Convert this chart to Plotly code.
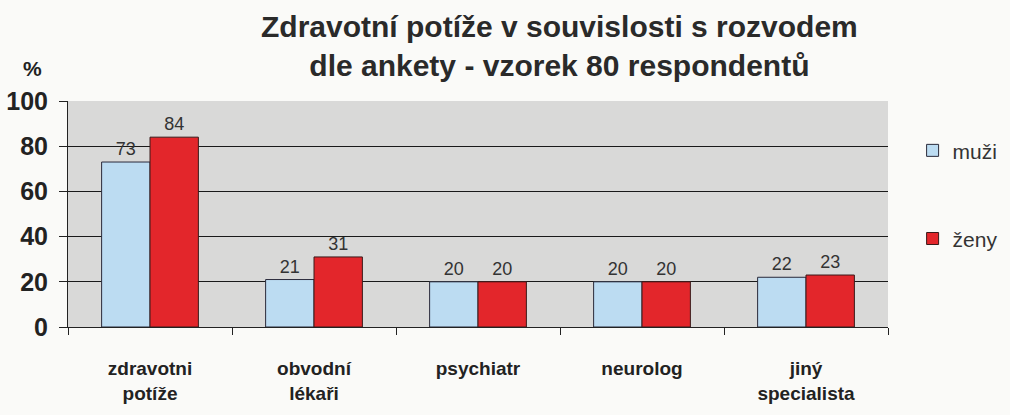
import plotly.graph_objects as go

categories = ["zdravotni<br>potíže", "obvodní<br>lékaři", "psychiatr", "neurolog", "jiný<br>specialista"]
muzi = [73, 21, 20, 20, 22]
zeny = [84, 31, 20, 20, 23]
y_ticks = [0, 20, 40, 60, 80, 100]
title_text = "Zdravotní potíže v souvislosti s rozvodem<br>dle ankety - vzorek 80 respondentů"

fig = go.Figure()
fig.add_trace(go.Bar(
    x=categories, y=muzi, name="muži",
    marker=dict(color="#bcdcf2", line=dict(color="#2a2a3a", width=1)),
    text=muzi, textposition="outside", cliponaxis=False,
    textfont=dict(family="Liberation Sans, Arial", size=18, color="#333333"),
    legend="legend",
))
fig.add_trace(go.Bar(
    x=categories, y=zeny, name="ženy",
    marker=dict(color="#e3262b", line=dict(color="#3a1a1a", width=1)),
    text=zeny, textposition="outside", cliponaxis=False,
    textfont=dict(family="Liberation Sans, Arial", size=18, color="#333333"),
    legend="legend2",
))

fig.update_layout(
    width=1010, height=415,
    margin=dict(l=68, r=122, t=101, b=88, autoexpand=False),
    paper_bgcolor="#fafaf8",
    plot_bgcolor="#d9d9d8",
    barmode="group", bargap=0.41, bargroupgap=0,
    font=dict(family="Liberation Sans, Arial", color="#222222"),
    xaxis=dict(
        showgrid=False, showline=True, linecolor="#222222", linewidth=1,
        ticks="outside", tickson="boundaries", ticklen=7, tickcolor="#222222",
        tickfont=dict(size=19, color="#222222", weight="bold",
                      family="Liberation Sans Narrow, Liberation Sans, Arial"),
        ticklabelstandoff=24,
        range=[-0.5, 4.5], automargin=False,
    ),
    yaxis=dict(
        range=[0, 100], tickvals=y_ticks,
        showgrid=True, gridcolor="#1a1a1a", gridwidth=1,
        showline=True, linecolor="#222222", linewidth=1,
        ticks="outside", ticklen=8, tickcolor="#222222",
        tickfont=dict(size=25, color="#222222", weight="bold"),
        ticklabelstandoff=6,
        zeroline=False, automargin=False,
    ),
    legend=dict(x=1.03, y=0.78, xanchor="left", yanchor="middle",
                font=dict(size=21, color="#333333"), bgcolor="rgba(0,0,0,0)"),
    legend2=dict(x=1.03, y=0.39, xanchor="left", yanchor="middle",
                 font=dict(size=21, color="#333333"), bgcolor="rgba(0,0,0,0)"),
    showlegend=True,
)

fig.add_annotation(text=title_text, xref="paper", yref="paper", x=0.599, y=1.245,
                   showarrow=False, xanchor="center", yanchor="middle",
                   font=dict(size=30, color="#2a2a2a", weight="bold"))
fig.add_annotation(text="%", xref="paper", yref="paper", x=-0.0427, y=1.146,
                   showarrow=False, font=dict(size=21, color="#222222", weight="bold"),
                   xanchor="center", yanchor="middle")

fig.write_html("out.html", config={"displayModeBar": False},
               post_script="document.body.style.margin='0px';")
